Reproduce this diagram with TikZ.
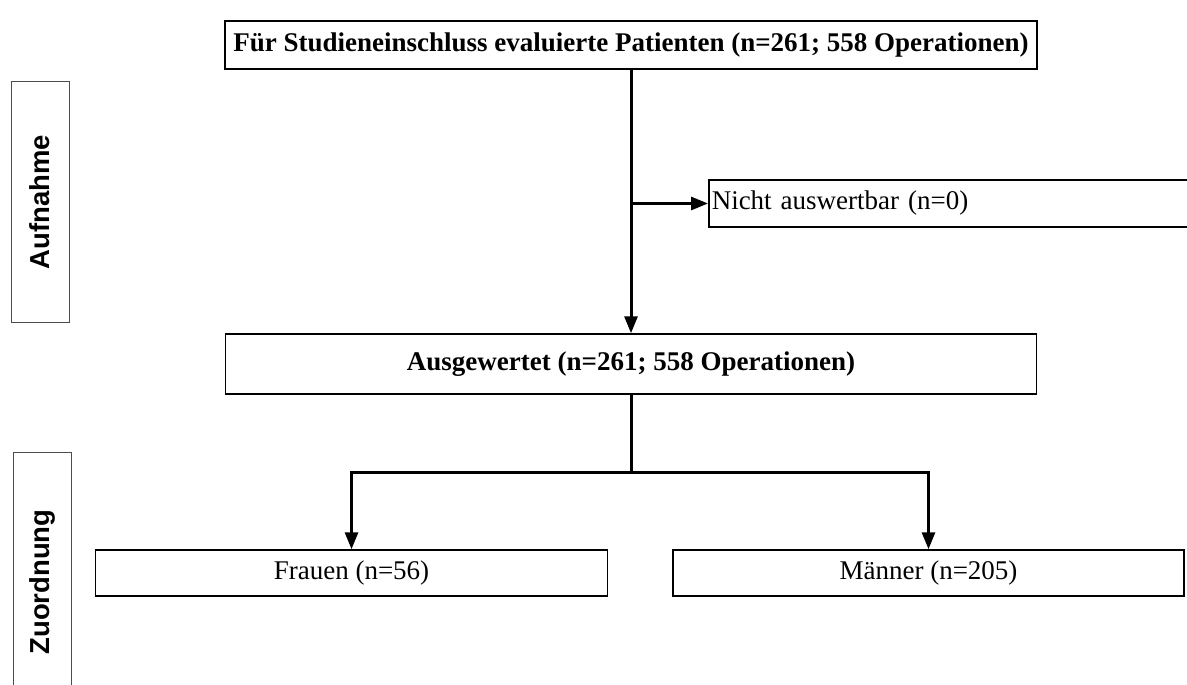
\documentclass[tikz,border=0pt]{standalone}
\usepackage{fontspec}
\setmainfont{Liberation Serif}
\newfontfamily\phasefont{Liberation Sans}
\usepackage{tikz}
\usetikzlibrary{arrows.meta}

\tikzset{
  box/.style={draw,line width=1.5pt,minimum height=47pt,inner sep=0pt,font=\fontsize{27}{32}\selectfont},
  boldbox/.style={box,font=\fontsize{27}{32}\selectfont\bfseries},
  phase/.style={draw=black!70,line width=1pt,inner sep=0pt,font=\phasefont\fontsize{27.5}{30}\selectfont\bfseries},
  flow/.style={line width=3pt,-{Triangle[length=17pt,width=13pt]}},
  flowline/.style={line width=3pt}
}

\begin{document}
\begin{tikzpicture}[x=1pt,y=-1pt]
\useasboundingbox (0,0) rectangle (1187,685);
% phases at the left
\node[phase,minimum width=58pt,minimum height=240pt] (aufnahme) at (40,202) {\rotatebox{90}{Aufnahme}};
\node[phase,minimum width=58pt,minimum height=260pt] (zuordnung) at (42,582) {\rotatebox{90}{Zuordnung}};
% boxes
\node[boldbox,minimum width=812pt,minimum height=48pt] (eval) at (631,45) {Für Studieneinschluss evaluierte Patienten (n=261; 558 Operationen)};
\node[box,anchor=west,text width=480pt,align=left,inner xsep=3pt] (nicht) at (708,203.5) {Nicht auswertbar (n=0)};
\node[boldbox,minimum width=811pt,minimum height=60pt] (ausgew) at (631,364) {Ausgewertet (n=261; 558 Operationen)};
\node[box,minimum width=512pt,minimum height=46pt] (frauen) at (351.5,573) {Frauen (n=56)};
\node[box,minimum width=511pt,minimum height=46pt] (maenner) at (928.5,573) {Männer (n=205)};
% connectors
\coordinate (abzweig) at (eval.south |- nicht.west);
\coordinate (teilung) at ([yshift=-78pt]ausgew.south);
\draw[flow] (eval.south) -- (ausgew.north);
\draw[flow] (abzweig) -- (nicht.west);
\draw[flowline] (ausgew.south) -- (teilung);
\draw[flow] (teilung) -| (frauen.north);
\draw[flow] (teilung) -| (maenner.north);
\end{tikzpicture}
\end{document}
